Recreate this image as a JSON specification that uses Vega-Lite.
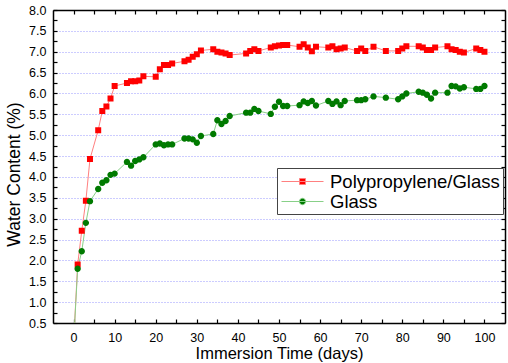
{
  "$schema": "https://vega.github.io/schema/vega-lite/v6.json",
  "autosize": "none",
  "width": 452,
  "height": 313,
  "padding": {"left": 53, "top": 10, "right": 3, "bottom": 40},
  "background": "white",
  "config": {
    "view": {"stroke": null},
    "font": "Liberation Sans",
    "axis": {"labelFont": "Liberation Sans", "titleFont": "Liberation Sans", "labelColor": "#000", "titleColor": "#000", "titleFontWeight": "normal"},
    "legend": {
      "orient": "none", "legendX": 224, "legendY": 158, "title": null,
      "strokeColor": "#444", "fillColor": "#fff", "padding": 3, "cornerRadius": 0,
      "labelFont": "Liberation Sans", "labelFontSize": 18.5, "labelColor": "#000", "labelLimit": 400,
      "symbolSize": 400, "symbolStrokeWidth": 1, "symbolOffset": 12, "labelOffset": 17, "rowPadding": 0
    }
  },
  "datasets": {
    "pts": [
      {"day": 0, "value": 0, "series": "Polypropylene/Glass"},
      {"day": 1, "value": 1.90, "series": "Polypropylene/Glass"},
      {"day": 2, "value": 2.71, "series": "Polypropylene/Glass"},
      {"day": 3, "value": 3.43, "series": "Polypropylene/Glass"},
      {"day": 4, "value": 4.43, "series": "Polypropylene/Glass"},
      {"day": 6, "value": 5.12, "series": "Polypropylene/Glass"},
      {"day": 7, "value": 5.58, "series": "Polypropylene/Glass"},
      {"day": 8, "value": 5.69, "series": "Polypropylene/Glass"},
      {"day": 9, "value": 5.88, "series": "Polypropylene/Glass"},
      {"day": 10, "value": 6.18, "series": "Polypropylene/Glass"},
      {"day": 13, "value": 6.25, "series": "Polypropylene/Glass"},
      {"day": 14, "value": 6.29, "series": "Polypropylene/Glass"},
      {"day": 15, "value": 6.29, "series": "Polypropylene/Glass"},
      {"day": 16, "value": 6.31, "series": "Polypropylene/Glass"},
      {"day": 17, "value": 6.41, "series": "Polypropylene/Glass"},
      {"day": 20, "value": 6.40, "series": "Polypropylene/Glass"},
      {"day": 21, "value": 6.58, "series": "Polypropylene/Glass"},
      {"day": 22, "value": 6.68, "series": "Polypropylene/Glass"},
      {"day": 23, "value": 6.68, "series": "Polypropylene/Glass"},
      {"day": 24, "value": 6.72, "series": "Polypropylene/Glass"},
      {"day": 27, "value": 6.77, "series": "Polypropylene/Glass"},
      {"day": 28, "value": 6.81, "series": "Polypropylene/Glass"},
      {"day": 29, "value": 6.88, "series": "Polypropylene/Glass"},
      {"day": 30, "value": 6.94, "series": "Polypropylene/Glass"},
      {"day": 31, "value": 7.03, "series": "Polypropylene/Glass"},
      {"day": 34, "value": 7.06, "series": "Polypropylene/Glass"},
      {"day": 35, "value": 7.00, "series": "Polypropylene/Glass"},
      {"day": 36, "value": 6.98, "series": "Polypropylene/Glass"},
      {"day": 37, "value": 6.96, "series": "Polypropylene/Glass"},
      {"day": 38, "value": 6.92, "series": "Polypropylene/Glass"},
      {"day": 42, "value": 6.96, "series": "Polypropylene/Glass"},
      {"day": 43, "value": 7.02, "series": "Polypropylene/Glass"},
      {"day": 44, "value": 7.06, "series": "Polypropylene/Glass"},
      {"day": 45, "value": 7.02, "series": "Polypropylene/Glass"},
      {"day": 48, "value": 7.10, "series": "Polypropylene/Glass"},
      {"day": 49, "value": 7.13, "series": "Polypropylene/Glass"},
      {"day": 50, "value": 7.15, "series": "Polypropylene/Glass"},
      {"day": 51, "value": 7.16, "series": "Polypropylene/Glass"},
      {"day": 52, "value": 7.16, "series": "Polypropylene/Glass"},
      {"day": 55, "value": 7.12, "series": "Polypropylene/Glass"},
      {"day": 56, "value": 7.18, "series": "Polypropylene/Glass"},
      {"day": 57, "value": 7.10, "series": "Polypropylene/Glass"},
      {"day": 58, "value": 7.01, "series": "Polypropylene/Glass"},
      {"day": 59, "value": 7.12, "series": "Polypropylene/Glass"},
      {"day": 62, "value": 7.10, "series": "Polypropylene/Glass"},
      {"day": 63, "value": 7.13, "series": "Polypropylene/Glass"},
      {"day": 64, "value": 7.06, "series": "Polypropylene/Glass"},
      {"day": 65, "value": 7.08, "series": "Polypropylene/Glass"},
      {"day": 66, "value": 7.10, "series": "Polypropylene/Glass"},
      {"day": 69, "value": 7.02, "series": "Polypropylene/Glass"},
      {"day": 70, "value": 7.08, "series": "Polypropylene/Glass"},
      {"day": 71, "value": 7.02, "series": "Polypropylene/Glass"},
      {"day": 73, "value": 7.12, "series": "Polypropylene/Glass"},
      {"day": 76, "value": 7.02, "series": "Polypropylene/Glass"},
      {"day": 79, "value": 7.02, "series": "Polypropylene/Glass"},
      {"day": 80, "value": 7.08, "series": "Polypropylene/Glass"},
      {"day": 81, "value": 7.13, "series": "Polypropylene/Glass"},
      {"day": 84, "value": 7.13, "series": "Polypropylene/Glass"},
      {"day": 85, "value": 7.10, "series": "Polypropylene/Glass"},
      {"day": 86, "value": 7.04, "series": "Polypropylene/Glass"},
      {"day": 87, "value": 7.04, "series": "Polypropylene/Glass"},
      {"day": 88, "value": 7.10, "series": "Polypropylene/Glass"},
      {"day": 91, "value": 7.13, "series": "Polypropylene/Glass"},
      {"day": 92, "value": 7.06, "series": "Polypropylene/Glass"},
      {"day": 93, "value": 7.04, "series": "Polypropylene/Glass"},
      {"day": 94, "value": 7.00, "series": "Polypropylene/Glass"},
      {"day": 95, "value": 6.98, "series": "Polypropylene/Glass"},
      {"day": 98, "value": 7.08, "series": "Polypropylene/Glass"},
      {"day": 99, "value": 7.04, "series": "Polypropylene/Glass"},
      {"day": 100, "value": 7.00, "series": "Polypropylene/Glass"},
      {"day": 0, "value": 0, "series": "Glass"},
      {"day": 1, "value": 1.80, "series": "Glass"},
      {"day": 2, "value": 2.22, "series": "Glass"},
      {"day": 3, "value": 2.90, "series": "Glass"},
      {"day": 4, "value": 3.42, "series": "Glass"},
      {"day": 6, "value": 3.71, "series": "Glass"},
      {"day": 7, "value": 3.86, "series": "Glass"},
      {"day": 8, "value": 3.92, "series": "Glass"},
      {"day": 9, "value": 4.05, "series": "Glass"},
      {"day": 10, "value": 4.08, "series": "Glass"},
      {"day": 13, "value": 4.36, "series": "Glass"},
      {"day": 14, "value": 4.27, "series": "Glass"},
      {"day": 15, "value": 4.38, "series": "Glass"},
      {"day": 16, "value": 4.42, "series": "Glass"},
      {"day": 17, "value": 4.47, "series": "Glass"},
      {"day": 20, "value": 4.78, "series": "Glass"},
      {"day": 21, "value": 4.80, "series": "Glass"},
      {"day": 22, "value": 4.76, "series": "Glass"},
      {"day": 23, "value": 4.78, "series": "Glass"},
      {"day": 24, "value": 4.78, "series": "Glass"},
      {"day": 27, "value": 4.92, "series": "Glass"},
      {"day": 28, "value": 4.92, "series": "Glass"},
      {"day": 29, "value": 4.90, "series": "Glass"},
      {"day": 30, "value": 4.82, "series": "Glass"},
      {"day": 31, "value": 4.98, "series": "Glass"},
      {"day": 34, "value": 5.03, "series": "Glass"},
      {"day": 35, "value": 5.36, "series": "Glass"},
      {"day": 36, "value": 5.27, "series": "Glass"},
      {"day": 37, "value": 5.34, "series": "Glass"},
      {"day": 38, "value": 5.46, "series": "Glass"},
      {"day": 42, "value": 5.54, "series": "Glass"},
      {"day": 43, "value": 5.54, "series": "Glass"},
      {"day": 44, "value": 5.63, "series": "Glass"},
      {"day": 45, "value": 5.58, "series": "Glass"},
      {"day": 48, "value": 5.51, "series": "Glass"},
      {"day": 49, "value": 5.68, "series": "Glass"},
      {"day": 50, "value": 5.80, "series": "Glass"},
      {"day": 51, "value": 5.70, "series": "Glass"},
      {"day": 52, "value": 5.70, "series": "Glass"},
      {"day": 55, "value": 5.72, "series": "Glass"},
      {"day": 56, "value": 5.81, "series": "Glass"},
      {"day": 57, "value": 5.77, "series": "Glass"},
      {"day": 58, "value": 5.82, "series": "Glass"},
      {"day": 59, "value": 5.71, "series": "Glass"},
      {"day": 62, "value": 5.82, "series": "Glass"},
      {"day": 63, "value": 5.75, "series": "Glass"},
      {"day": 64, "value": 5.81, "series": "Glass"},
      {"day": 65, "value": 5.72, "series": "Glass"},
      {"day": 66, "value": 5.82, "series": "Glass"},
      {"day": 69, "value": 5.84, "series": "Glass"},
      {"day": 70, "value": 5.84, "series": "Glass"},
      {"day": 71, "value": 5.86, "series": "Glass"},
      {"day": 73, "value": 5.93, "series": "Glass"},
      {"day": 76, "value": 5.90, "series": "Glass"},
      {"day": 79, "value": 5.86, "series": "Glass"},
      {"day": 80, "value": 5.93, "series": "Glass"},
      {"day": 81, "value": 6.00, "series": "Glass"},
      {"day": 84, "value": 6.04, "series": "Glass"},
      {"day": 85, "value": 6.02, "series": "Glass"},
      {"day": 86, "value": 5.97, "series": "Glass"},
      {"day": 87, "value": 5.88, "series": "Glass"},
      {"day": 88, "value": 6.02, "series": "Glass"},
      {"day": 91, "value": 6.02, "series": "Glass"},
      {"day": 92, "value": 6.18, "series": "Glass"},
      {"day": 93, "value": 6.17, "series": "Glass"},
      {"day": 94, "value": 6.12, "series": "Glass"},
      {"day": 95, "value": 6.15, "series": "Glass"},
      {"day": 98, "value": 6.11, "series": "Glass"},
      {"day": 99, "value": 6.11, "series": "Glass"},
      {"day": 100, "value": 6.18, "series": "Glass"}
    ]
  },
  "data": {"name": "pts"},
  "resolve": {"axis": {"x": "independent", "y": "independent"}},
  "layer": [
    {
      "transform": [{"filter": "datum.series === 'Polypropylene/Glass'"}],
      "mark": {"type": "line", "strokeWidth": 1, "clip": true},
      "encoding": {
        "x": {"field": "day", "type": "quantitative", "scale": {"domain": [-5, 105], "nice": false, "zero": false},
          "axis": {"orient": "bottom", "title": "Immersion Time (days)", "values": [0,5,10,15,20,25,30,35,40,45,50,55,60,65,70,75,80,85,90,95,100],
            "labelExpr": "datum.value % 10 === 0 ? datum.label : ''", "grid": false, "domainColor": "#000", "domainWidth": 1.5,
            "tickColor": "#000", "tickSize": -4, "tickWidth": 1.2, "labelPadding": 12, "labelFontSize": 12.5, "titleFontSize": 16.5, "titlePadding": 2, "labelFlush": false}},
        "y": {"field": "value", "type": "quantitative", "scale": {"domain": [0.5, 8.0], "nice": false, "zero": false},
          "axis": {"orient": "left", "title": "Water Content (%)", "values": [0.5,0.75,1,1.25,1.5,1.75,2,2.25,2.5,2.75,3,3.25,3.5,3.75,4,4.25,4.5,4.75,5,5.25,5.5,5.75,6,6.25,6.5,6.75,7,7.25,7.5,7.75,8],
            "format": ".1f", "labelExpr": "(datum.value * 2) % 1 === 0 ? datum.label : ''", "grid": false, "domainColor": "#000", "domainWidth": 1.5,
            "tickColor": "#000", "tickSize": -4, "tickWidth": 1.2, "labelPadding": 11, "labelFontSize": 12.5, "titleFontSize": 17.5, "titlePadding": 5, "titleY": 164, "labelFlush": false}},
        "stroke": {"field": "series", "type": "nominal",
          "scale": {"domain": ["Polypropylene/Glass", "Glass"], "range": ["#ff8080", "#88d088"]}}
      }
    },
    {
      "transform": [{"filter": "datum.series === 'Glass'"}],
      "mark": {"type": "line", "strokeWidth": 1, "clip": true},
      "encoding": {
        "x": {"field": "day", "type": "quantitative",
          "axis": {"orient": "top", "title": null, "values": [0,5,10,15,20,25,30,35,40,45,50,55,60,65,70,75,80,85,90,95,100],
            "labels": false, "grid": false, "domainColor": "#000", "domainWidth": 1.5, "tickColor": "#000", "tickSize": -4, "tickWidth": 1.2}},
        "y": {"field": "value", "type": "quantitative",
          "axis": {"orient": "right", "title": null, "values": [0.5,0.75,1,1.25,1.5,1.75,2,2.25,2.5,2.75,3,3.25,3.5,3.75,4,4.25,4.5,4.75,5,5.25,5.5,5.75,6,6.25,6.5,6.75,7,7.25,7.5,7.75,8],
            "labels": false, "grid": false, "domainColor": "#000", "domainWidth": 1.5, "tickColor": "#000", "tickSize": -4, "tickWidth": 1.2}},
        "stroke": {"field": "series", "type": "nominal"}
      }
    },
    {
      "mark": {"type": "point", "filled": true, "size": 400, "opacity": 1, "strokeWidth": 0, "clip": true},
      "encoding": {
        "x": {"field": "day", "type": "quantitative", "axis": null},
        "y": {"field": "value", "type": "quantitative",
          "axis": {"orient": "left", "title": null, "values": [1,1.5,2,2.5,3,3.5,4,4.5,5,5.5,6,6.5,7,7.5],
            "labels": false, "ticks": false, "domain": false, "grid": true, "gridColor": "#9999ff", "gridDash": [1, 2], "gridWidth": 1}},
        "shape": {"field": "series", "type": "nominal",
          "scale": {"domain": ["Polypropylene/Glass", "Glass"], "range": ["M-2.1,0H2.1M-0.3,-0.3H0.3V0.3H-0.3Z", "M-2.1,0H2.1M-0.32,0A0.32,0.32 0 1,0 0.32,0A0.32,0.32 0 1,0 -0.32,0Z"]}},
        "fill": {"field": "series", "type": "nominal",
          "scale": {"domain": ["Polypropylene/Glass", "Glass"], "range": ["#ff0000", "#007a00"]}}
      }
    }
  ]
}
